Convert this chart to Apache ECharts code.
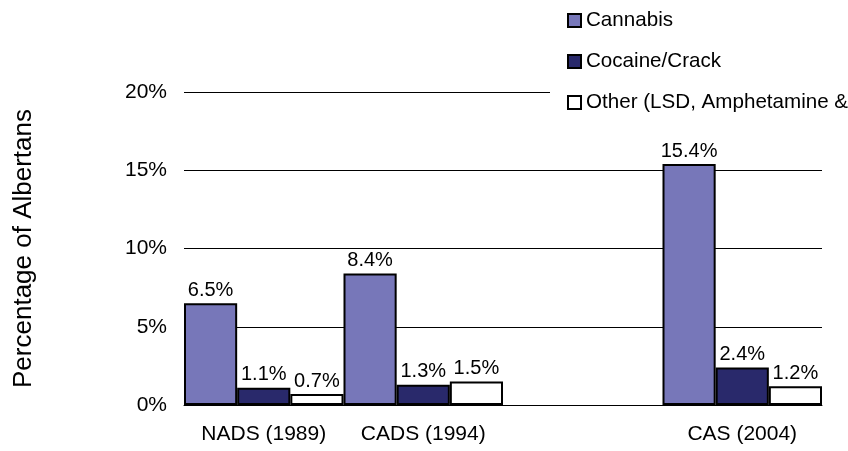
<!DOCTYPE html>
<html>
<head>
<meta charset="utf-8">
<script src="https://cdn.jsdelivr.net/npm/echarts@6/dist/echarts.min.js"></script>
<style>
  html, body { margin: 0; padding: 0; background: #fff; }
  #chart { width: 848px; height: 451px; }
</style>
</head>
<body>
<div id="chart"></div>
<script>
// survey years (third slot is an empty gap on the axis)
var categories = ['NADS (1989)', 'CADS (1994)', '', 'CAS (2004)'];
var cannabis = [6.5, 8.4, '-', 15.4];
var cocaine = [1.1, 1.3, '-', 2.4];
var other = [0.7, 1.5, '-', 1.2];
var seriesNames = ['Cannabis', 'Cocaine/Crack', 'Other (LSD, Amphetamine &'];
var seriesColors = ['#7777B9', '#29296B', '#ffffff'];

var font = '"Liberation Sans", Arial, sans-serif';

function makeSeries(name, data, color) {
    return {
        name: name,
        type: 'bar',
        data: data,
        barGap: '0%',
        barCategoryGap: '0%',
        itemStyle: {
            color: color,
            borderColor: '#000',
            borderWidth: 2
        },
        label: {
            show: true,
            position: 'top',
            distance: 3,
            color: '#000',
            fontSize: 20,
            fontFamily: font,
            formatter: function (p) { return p.value + '%'; }
        }
    };
}

var myChart = echarts.init(document.getElementById('chart'));
var option = {
    animation: false,
    backgroundColor: '#fff',
    grid: { left: 184, right: 26, top: 92, bottom: 46, outerBoundsMode: 'none' },
    legend: {
        orient: 'vertical',
        left: 550,
        top: 6,
        padding: [4, 0, 4, 17],
        backgroundColor: '#fff',
        icon: 'rect',
        itemWidth: 13,
        itemHeight: 13,
        itemGap: 20,
        textStyle: { color: '#000', fontSize: 20.6, fontFamily: font },
        data: seriesNames
    },
    xAxis: {
        type: 'category',
        data: categories,
        axisLine: { lineStyle: { color: '#000', width: 1 } },
        axisTick: { length: 6, lineStyle: { color: '#000' } },
        axisLabel: { color: '#000', fontSize: 21, fontFamily: font, margin: 19, interval: 0 }
    },
    yAxis: {
        type: 'value',
        min: 0,
        max: 20,
        interval: 5,
        name: 'Percentage of Albertans',
        nameLocation: 'middle',
        nameRotate: 90,
        nameGap: 147,
        nameTextStyle: { color: '#000', fontSize: 26, fontFamily: font },
        axisLine: { show: false },
        axisTick: { show: false },
        axisLabel: { color: '#000', fontSize: 21, fontFamily: font, margin: 17, formatter: '{value}%' },
        splitLine: { lineStyle: { color: '#000', width: 1 } }
    },
    series: [
        makeSeries(seriesNames[0], cannabis, seriesColors[0]),
        makeSeries(seriesNames[1], cocaine, seriesColors[1]),
        makeSeries(seriesNames[2], other, seriesColors[2])
    ]
};
myChart.setOption(option);
</script>
</body>
</html>
